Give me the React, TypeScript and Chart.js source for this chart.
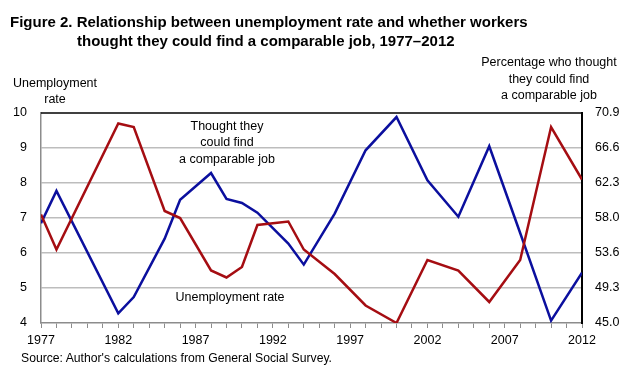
import React, { useEffect, useRef } from "react";
import { Chart, registerables } from "chart.js";

Chart.register(...registerables);

const years = [1977, 1978, 1982, 1983, 1985, 1986, 1988, 1989, 1990, 1991, 1993, 1994, 1996, 1998, 2000, 2002, 2004, 2006, 2008, 2010, 2012];
const unemploymentRate = [7.1, 6.1, 9.7, 9.6, 7.2, 7.0, 5.5, 5.3, 5.6, 6.8, 6.9, 6.1, 5.4, 4.5, 4.0, 5.8, 5.5, 4.6, 5.8, 9.6, 8.1];
const thoughtComparable = [57.3, 61.3, 46.2, 48.2, 55.4, 60.2, 63.5, 60.3, 59.8, 58.6, 54.8, 52.2, 58.5, 66.3, 70.4, 62.6, 58.1, 66.8, 56.1, 45.3, 51.2];
const xLabelYears = [1977, 1982, 1987, 1992, 1997, 2002, 2007, 2012];
const leftTicks = [4, 5, 6, 7, 8, 9, 10];
const rightTickLabels = ["45.0", "49.3", "53.6", "58.0", "62.3", "66.6", "70.9"];

const RED = "#A50D12";
const BLUE = "#0B0F9E";
const FONT = "'Liberation Sans', Arial, sans-serif";

export default function App() {
  const ref = useRef<HTMLCanvasElement | null>(null);

  useEffect(() => {
    if (!ref.current) return;
    const rightMin = parseFloat(rightTickLabels[0]);
    const rightMax = parseFloat(rightTickLabels[rightTickLabels.length - 1]);
    const rightStep = (rightMax - rightMin) / (rightTickLabels.length - 1);

    const topBorder = {
      id: "topBorder",
      afterDraw(chart: any) {
        const { ctx, chartArea } = chart;
        ctx.save();
        ctx.strokeStyle = "#000";
        ctx.lineWidth = 1.5;
        ctx.beginPath();
        ctx.moveTo(chartArea.left, chartArea.top);
        ctx.lineTo(chartArea.right, chartArea.top);
        ctx.stroke();
        ctx.restore();
      },
    };

    const chart = new Chart(ref.current, {
      type: "line",
      data: {
        datasets: [
          {
            label: "Unemployment rate",
            data: years.map((y, i) => ({ x: y, y: unemploymentRate[i] })),
            borderColor: RED,
            borderWidth: 2.5,
            pointRadius: 0,
            tension: 0,
            borderJoinStyle: "miter",
            yAxisID: "y",
          },
          {
            label: "Thought they could find a comparable job",
            data: years.map((y, i) => ({ x: y, y: thoughtComparable[i] })),
            borderColor: BLUE,
            borderWidth: 2.5,
            pointRadius: 0,
            tension: 0,
            borderJoinStyle: "miter",
            yAxisID: "y1",
          },
        ],
      },
      options: {
        animation: false,
        responsive: false,
        maintainAspectRatio: false,
        layout: { padding: { top: 113, left: 0, right: 0, bottom: 0 } },
        plugins: { legend: { display: false }, tooltip: { enabled: false }, title: { display: false } },
        scales: {
          x: {
            type: "linear",
            position: "bottom",
            min: years[0],
            max: years[years.length - 1],
            afterBuildTicks: (scale: any) => {
              const t = [];
              for (let v = years[0]; v <= years[years.length - 1]; v++) t.push({ value: v });
              scale.ticks = t;
            },
            afterFit: (scale: any) => {
              scale.height = 49;
            },
            ticks: {
              autoSkip: false,
              maxRotation: 0,
              minRotation: 0,
              padding: 5,
              color: "#000",
              font: { family: FONT, size: 12.5 },
              callback: (v: any) => (xLabelYears.includes(Number(v)) ? String(v) : ""),
            },
            grid: { drawOnChartArea: false, drawTicks: true, tickLength: 5, color: "#8c8c8c" },
            border: { color: "#8c8c8c", width: 1.5 },
          },
          y: {
            type: "linear",
            position: "left",
            min: leftTicks[0],
            max: leftTicks[leftTicks.length - 1],
            afterBuildTicks: (scale: any) => {
              scale.ticks = leftTicks.map((v) => ({ value: v }));
            },
            afterFit: (scale: any) => {
              scale.width = 41;
            },
            ticks: {
              padding: 14,
              color: "#000",
              font: { family: FONT, size: 12.5 },
              callback: (v: any) => String(v),
            },
            grid: {
              drawTicks: false,
              color: (c: any) => (c.tick && (c.tick.value === 10 || c.tick.value === 4) ? "rgba(0,0,0,0)" : "#bdbdbd"),
              lineWidth: 1.5,
            },
            border: { color: "#8c8c8c", width: 1.5 },
          },
          y1: {
            type: "linear",
            position: "right",
            min: rightMin,
            max: rightMax,
            afterBuildTicks: (scale: any) => {
              scale.ticks = rightTickLabels.map((_, i) => ({ value: rightMin + i * rightStep }));
            },
            afterFit: (scale: any) => {
              scale.width = 43;
            },
            ticks: {
              padding: 13,
              color: "#000",
              font: { family: FONT, size: 12.5 },
              callback: (_v: any, i: number) => rightTickLabels[i],
            },
            grid: { drawOnChartArea: false, drawTicks: false },
            border: { color: "#000", width: 2 },
          },
        },
      },
      plugins: [topBorder],
    });
    return () => chart.destroy();
  }, []);

  const txt = (s: string, cx: number, cy: number, extra: any = {}) => (
    <div
      key={s + cx + cy}
      style={{
        position: "absolute",
        left: cx,
        top: cy,
        transform: "translate(-50%, -50%)",
        whiteSpace: "nowrap",
        lineHeight: 1,
        fontFamily: FONT,
        fontSize: 12.5,
        color: "#000",
        ...extra,
      }}
    >
      {s}
    </div>
  );
  const ltxt = (s: string, x: number, cy: number, extra: any = {}) => (
    <div
      key={s + x + cy}
      style={{
        position: "absolute",
        left: x,
        top: cy,
        transform: "translateY(-50%)",
        whiteSpace: "nowrap",
        lineHeight: 1,
        fontFamily: FONT,
        fontSize: 12.5,
        color: "#000",
        ...extra,
      }}
    >
      {s}
    </div>
  );

  return (
    <div style={{ position: "fixed", left: 0, top: 0, width: 625, height: 372, background: "#fff", overflow: "hidden" }}>
      <canvas ref={ref} width={625} height={372} style={{ position: "absolute", left: 0, top: 0 }} />
      {ltxt("Figure 2. Relationship between unemployment rate and whether workers", 10, 21, { fontWeight: "bold", fontSize: 15 })}
      {ltxt("thought they could find a comparable job, 1977–2012", 77, 40, { fontWeight: "bold", fontSize: 15 })}
      {txt("Unemployment", 55, 83)}
      {txt("rate", 55, 99)}
      {txt("Percentage who thought", 549, 62)}
      {txt("they could find", 549, 79)}
      {txt("a comparable job", 549, 95)}
      {txt("Thought they", 227, 126)}
      {txt("could find", 227, 142)}
      {txt("a comparable job", 227, 159)}
      {txt("Unemployment rate", 230, 297)}
      {ltxt("Source: Author's calculations from General Social Survey.", 21, 358, { fontSize: 12.2 })}
    </div>
  );
}
